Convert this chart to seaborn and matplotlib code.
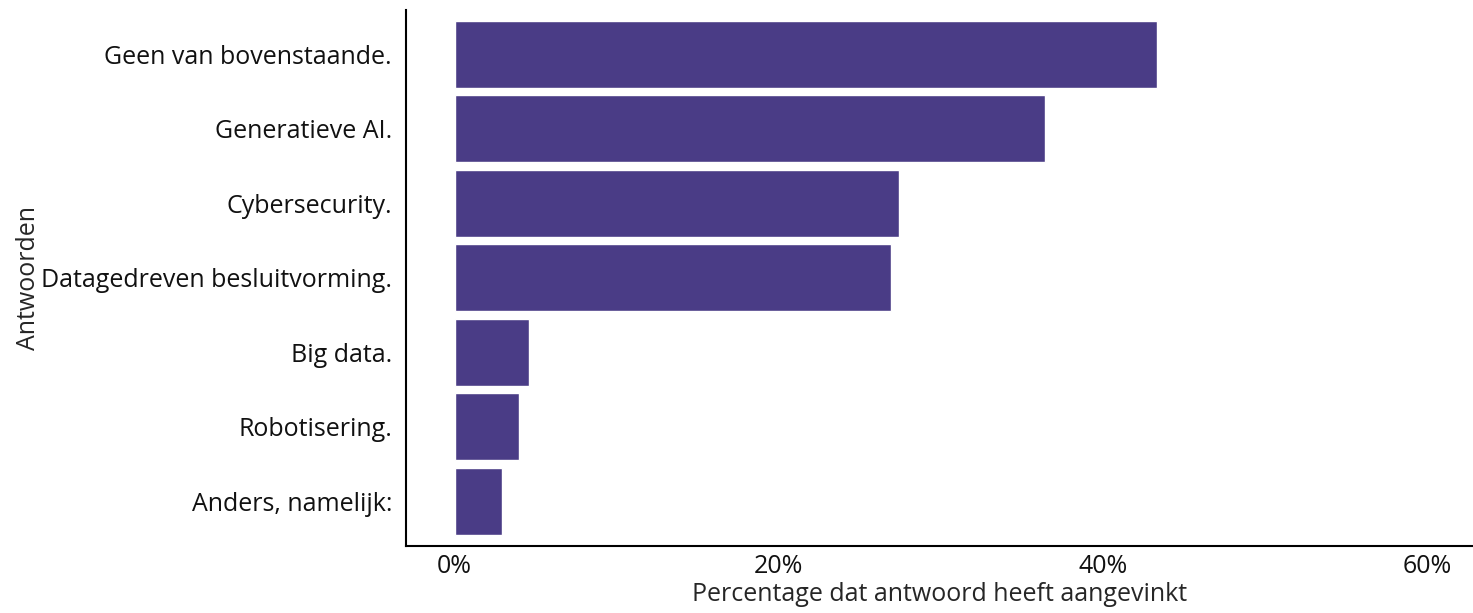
import matplotlib
matplotlib.use("Agg")
import matplotlib.pyplot as plt
import seaborn as sns
import pandas as pd
from matplotlib.ticker import PercentFormatter

answers = [
    "Geen van bovenstaande.",
    "Generatieve AI.",
    "Cybersecurity.",
    "Datagedreven besluitvorming.",
    "Big data.",
    "Robotisering.",
    "Anders, namelijk:",
]
percentages = [43.3, 36.4, 27.4, 26.9, 4.6, 3.95, 2.9]

df = pd.DataFrame({"Antwoorden": answers, "Percentage": percentages})

sns.set_style("white")
plt.rcParams["font.family"] = ["Open Sans", "DejaVu Sans"]

fig = plt.figure(figsize=(14.73, 6.13), dpi=100)
ax = fig.add_axes([0.2756, 0.1093, 0.7244, 0.8747])

sns.barplot(data=df, x="Percentage", y="Antwoorden", color="#4a3c86",
            saturation=1, width=0.9, ax=ax)

ax.set_xlim(-3.0, 62.8)
ax.set_ylim(6.6, -0.6)
ax.set_xticks([0, 20, 40, 60])
ax.xaxis.set_major_formatter(PercentFormatter(decimals=0))
ax.tick_params(axis="both", length=0, labelsize=18, labelcolor="#111111")
ax.tick_params(axis="x", pad=6)
ax.tick_params(axis="y", pad=10)

ax.set_xlabel("Percentage dat antwoord heeft aangevinkt", fontsize=18, labelpad=2)
ax.set_ylabel("Antwoorden", fontsize=18, labelpad=0)

for side in ["top", "right"]:
    ax.spines[side].set_visible(False)
for side in ["left", "bottom"]:
    ax.spines[side].set_color("black")
    ax.spines[side].set_linewidth(1.5)

fig.savefig("out.png", dpi=100)
